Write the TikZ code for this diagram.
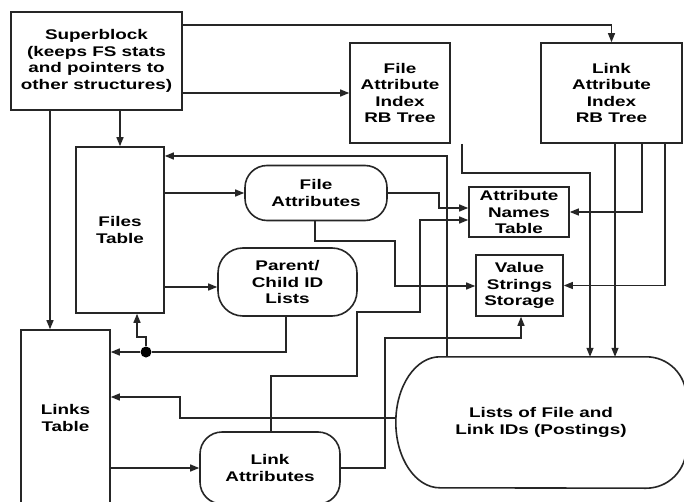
\documentclass[tikz,border=0pt]{standalone}
\usepackage{fontspec}
\setmainfont{Liberation Sans}[FakeStretch=1.35]
\usetikzlibrary{arrows.meta}
\begin{document}
\begin{tikzpicture}[x=1pt,y=-1pt,
  every node/.style={font=\fontsize{14}{16.5}\selectfont\bfseries, align=center, inner sep=0pt},
  box/.style={draw=black!85, line width=1.6pt, rectangle},
  rbox/.style={box, rounded corners=22pt},
  ln/.style={draw=black!85, line width=1.3pt},
  arr/.style={ln, -{Triangle[length=9pt,width=7pt]}},
  dotnode/.style={circle, fill=black, minimum size=11pt, inner sep=0pt}
]
\useasboundingbox (0,0) rectangle (684,502);
\fill[white] (0,0) rectangle (684,502);

% nodes
\node[box, minimum width=171pt, minimum height=98pt] (sb) at (96.5,61) {Superblock\\(keeps FS stats\\and pointers to\\other structures)};
\node[box, minimum width=100pt, minimum height=100pt] (fai) at (400,93) {File\\Attribute\\Index\\RB Tree};
\node[box, minimum width=141pt, minimum height=100pt] (lai) at (611.5,93) {Link\\Attribute\\Index\\RB Tree};
\node[box, minimum width=88pt, minimum height=166pt] (ft) at (120,230) {Files\\Table};
\node[rbox, minimum width=142pt, minimum height=55pt] (fa) at (316,193) {File\\Attributes};
\node[rbox, rounded corners=25pt, minimum width=139pt, minimum height=68pt] (pc) at (287.5,282) {Parent/\\Child ID\\Lists};
\node[box, minimum width=100pt, minimum height=50pt] (ant) at (519,212) {Attribute\\Names\\Table};
\node[box, minimum width=87pt, minimum height=61pt] (vs) at (519.5,285.5) {Value\\Strings\\Storage};
\node[box, minimum width=89pt, minimum height=176pt] (lt) at (65.5,418) {Links\\Table};
\node[rbox, minimum width=140pt, minimum height=72pt] (la) at (270,468) {Link\\Attributes};
\node[minimum width=290pt, minimum height=131pt] (post) at (541,422.5) {Lists of File and\\Link IDs (Postings)};
\draw[box] ([xshift=44pt]post.north west)
  arc[start angle=90,end angle=270,x radius=44pt,y radius=65.5pt]
  -- ([xshift=-40pt]post.south east)
  arc[start angle=270,end angle=360,radius=40pt]
  -- ([yshift=-40pt]post.north east)
  arc[start angle=0,end angle=90,radius=40pt]
  -- cycle;
\node[dotnode] (dot) at (146,352) {};

% connectors
\draw[arr] (sb.east |- 0,25) -| (lai.north);
\draw[arr] (sb.east |- fai.west) -- (fai.west);
\draw[arr] (sb.south -| 120,0) -- (ft.north -| 120,0);
\draw[arr] (sb.south -| 50,0) -- (lt.north -| 50,0);
\draw[arr] (fai.south -| 462,0) |- (590,173) -- (post.north -| 590,0);
\draw[arr] (lai.south -| 615,0) -- (post.north -| 615,0);
\draw[arr] (lai.south -| 642,0) |- (ant.east);
\draw[arr] (lai.south -| 665,0) |- (vs.east);
\draw[arr] (post.north -| 447,0) |- (ft.east |- 0,156);
\draw[arr] (ft.east |- fa.west) -- (fa.west);
\draw[arr] (ft.east |- 0,287) -- (pc.west |- 0,287);
\draw[arr] (fa.east) -| (439,208) -- (ant.west |- 0,208);
\draw[arr] (la.north -| 271,0) |- (357,376) |- (420,312) |- (ant.west |- 0,220);
\draw[arr] (fa.south -| 315,0) |- (395,241) |- (vs.west |- 0,286);
\draw[arr] (la.east) -| (385,338) -| (vs.south -| 521,0);
\draw[ln] (pc.south -| 286,0) |- (dot);
\draw[arr] (dot) -- (lt.east |- dot);
\draw[arr] (dot) |- (137,337) -- (ft.south -| 137,0);
\draw[arr] (post.west |- 0,418) -| (180,397) -- (lt.east |- 0,397);
\draw[arr] (lt.east |- la.west) -- (la.west);
\end{tikzpicture}
\end{document}
